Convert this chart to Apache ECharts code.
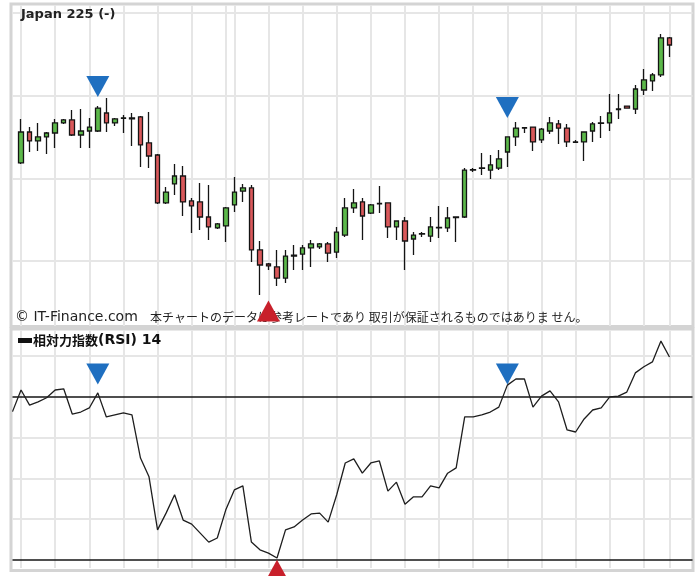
<!DOCTYPE html>
<html>
<head>
<meta charset="utf-8">
<script src="https://cdn.jsdelivr.net/npm/echarts@6/dist/echarts.min.js"></script>
<style>
  html, body { margin: 0; padding: 0; background: #ffffff; }
  #chart { width: 700px; height: 576px; }
</style>
</head>
<body>
<div id="chart"></div>
<script>
// Daily sessions, oldest first: [open, close, low, high]
const candles = [
  [15593, 15780, 15587, 15859], [15780, 15726, 15659, 15810], [15726, 15750, 15665, 15835],
  [15750, 15774, 15647, 15780], [15774, 15835, 15683, 15859], [15835, 15853, 15829, 15859],
  [15853, 15762, 15756, 15913], [15762, 15786, 15683, 15919], [15786, 15810, 15683, 15865],
  [15786, 15925, 15780, 15937], [15895, 15835, 15780, 15986], [15835, 15859, 15816, 15865],
  [15862, 15866, 15774, 15883], [15865, 15859, 15696, 15895], [15871, 15702, 15569, 15877],
  [15714, 15635, 15562, 15901], [15641, 15351, 15345, 15647], [15351, 15417, 15345, 15448],
  [15466, 15514, 15399, 15587], [15514, 15357, 15272, 15575], [15363, 15333, 15169, 15381],
  [15357, 15266, 15187, 15472], [15266, 15206, 15127, 15460], [15200, 15224, 15194, 15230],
  [15212, 15321, 15115, 15327], [15339, 15417, 15296, 15508], [15423, 15442, 15357, 15466],
  [15442, 15067, 14994, 15460], [15067, 14976, 14794, 15121], [14982, 14970, 14946, 14988],
  [14964, 14897, 14849, 15067], [14897, 15030, 14867, 15067], [15030, 15036, 14946, 15097],
  [15042, 15079, 14946, 15097], [15079, 15103, 14964, 15127], [15085, 15103, 15073, 15109],
  [15103, 15048, 14994, 15115], [15054, 15175, 15018, 15206], [15157, 15321, 15145, 15381],
  [15321, 15351, 15290, 15435], [15357, 15272, 15127, 15381], [15290, 15339, 15284, 15345],
  [15345, 15348, 15290, 15454], [15351, 15206, 15139, 15354], [15206, 15242, 15127, 15245],
  [15242, 15121, 14946, 15266], [15133, 15157, 15036, 15175], [15163, 15166, 15145, 15175],
  [15151, 15206, 15115, 15266], [15200, 15203, 15139, 15333], [15200, 15260, 15175, 15327],
  [15266, 15263, 15115, 15270], [15266, 15550, 15260, 15562], [15550, 15553, 15538, 15562],
  [15560, 15563, 15520, 15653], [15550, 15581, 15496, 15641], [15562, 15617, 15550, 15671],
  [15659, 15750, 15569, 15753], [15750, 15804, 15696, 15841], [15804, 15806, 15774, 15810],
  [15810, 15720, 15665, 15813], [15732, 15798, 15714, 15804], [15786, 15835, 15768, 15871],
  [15829, 15804, 15708, 15853], [15804, 15720, 15689, 15829], [15720, 15718, 15714, 15732],
  [15720, 15780, 15605, 15783], [15786, 15829, 15720, 15841], [15832, 15835, 15744, 15877],
  [15835, 15895, 15786, 16010], [15916, 15919, 15859, 16010], [15937, 15925, 15922, 15940],
  [15919, 16040, 15889, 16064], [16034, 16095, 16004, 16161], [16089, 16125, 16028, 16137],
  [16125, 16349, 16113, 16373], [16349, 16306, 16234, 16355]
];

// RSI(14); the first value belongs to the session before the first candle
const rsiFirstDay = -1;
const rsi14 = [
  66.4, 71.7, 68.0, 68.8, 69.8, 71.7, 72.0, 65.8, 66.3, 67.3,
  71.0, 65.1, 65.6, 66.1, 65.6, 55.0, 50.4, 37.4, 41.5, 46.0,
  39.8, 38.8, 36.6, 34.4, 35.4, 42.3, 47.2, 48.2, 34.4, 32.5,
  31.7, 30.5, 37.4, 38.1, 39.8, 41.3, 41.5, 39.3, 46.0, 53.8,
  54.8, 51.3, 53.8, 54.3, 46.9, 49.1, 43.7, 45.5, 45.5, 48.2,
  47.7, 51.3, 52.6, 65.1, 65.1, 65.6, 66.3, 67.5, 72.9, 74.4,
  74.4, 67.5, 70.2, 71.5, 68.8, 61.9, 61.4, 64.6, 66.8, 67.3,
  70.0, 70.2, 71.2, 75.9, 77.4, 78.6, 83.7, 79.8
];

// Sessions that carry a vertical grid line
const gridDays = [0, 4, 8, 12, 16, 20, 24, 25, 29, 33, 37, 41, 45, 49, 53, 57, 61, 65, 69, 73, 76];
const priceLevels = [15000, 15500, 16000, 16500];
const rsiLevels = [40, 50, 60, 80];
const rsiBands = [30, 70];

// Signal markers: [session, level]
const sellOnPrice = [[9, 16055], [57, 15928]];
const buyOnPrice = [[29, 14698]];
const sellOnRsi = [[9, 75.6], [57, 75.6]];
const buyOnRsi = [[30, 27.5]];

const chart = echarts.init(document.getElementById('chart'), null, { renderer: 'canvas' });

const gridStroke = { color: '#e6e6e6', width: 2, type: 'solid' };
const bandStroke = { color: '#141414', width: 1.5, type: 'solid' };
const frameStroke = '#d4d4d4';
const sellColor = '#1f6fc0';
const buyColor = '#c8202b';

const dayAxis = (gridIndex) => ({
  type: 'value', gridIndex, min: -1, max: 78.7,
  axisLine: { show: false }, axisTick: { show: false }, axisLabel: { show: false }, splitLine: { show: false }
});

const triangle = (data, gridIndex, down, color) => ({
  type: 'scatter', xAxisIndex: gridIndex, yAxisIndex: gridIndex, data,
  symbol: 'triangle', symbolRotate: down ? 180 : 0, symbolSize: [23, 21],
  itemStyle: { color, opacity: 1 }, clip: false, silent: true, z: 6
});

chart.setOption({
  animation: false,
  backgroundColor: '#ffffff',
  grid: [
    { left: 12.5, top: 5, width: 680, height: 321 },
    { left: 12.5, top: 330.5, width: 680, height: 237.5 }
  ],
  xAxis: [dayAxis(0), dayAxis(1)],
  yAxis: [
    { type: 'value', gridIndex: 0, min: 14607, max: 16548, show: false, splitLine: { show: false } },
    { type: 'value', gridIndex: 1, min: 28.04, max: 86.3, show: false, splitLine: { show: false } }
  ],
  series: [
    {
      type: 'candlestick', name: 'Japan 225', xAxisIndex: 0, yAxisIndex: 0,
      data: candles.map((c, i) => [i, c[0], c[1], c[2], c[3]]),
      barWidth: 5,
      itemStyle: {
        color: '#5cb84a', color0: '#d9585a',
        borderColor: '#141414', borderColor0: '#141414', borderColorDoji: '#141414', borderWidth: 1.3
      },
      z: 3,
      markLine: {
        silent: true, symbol: 'none', z: 1, animation: false,
        label: { show: false }, lineStyle: gridStroke,
        emphasis: { disabled: true },
        data: [
          ...gridDays.map(d => ({ xAxis: d })),
          ...priceLevels.map(p => ({ yAxis: p }))
        ]
      }
    },
    {
      type: 'line', name: '相対力指数(RSI) 14', xAxisIndex: 1, yAxisIndex: 1,
      data: rsi14.map((v, k) => [k + rsiFirstDay, v]),
      symbol: 'none', smooth: false,
      lineStyle: { color: '#1e1e1e', width: 1.3 },
      z: 4,
      markLine: {
        silent: true, symbol: 'none', z: 1, animation: false,
        label: { show: false }, lineStyle: gridStroke,
        emphasis: { disabled: true },
        data: [
          ...gridDays.map(d => ({ xAxis: d })),
          ...rsiLevels.map(v => ({ yAxis: v })),
          ...rsiBands.map(v => ({ yAxis: v, lineStyle: bandStroke }))
        ]
      }
    },
    triangle(sellOnPrice, 0, true, sellColor),
    triangle(buyOnPrice, 0, false, buyColor),
    triangle(sellOnRsi, 1, true, sellColor),
    triangle(buyOnRsi, 1, false, buyColor)
  ],
  graphic: [
    { type: 'rect', silent: true, z: 0, shape: { x: 11, y: 4, width: 682, height: 322.5 },
      style: { fill: 'none', stroke: frameStroke, lineWidth: 3 } },
    { type: 'rect', silent: true, z: 0, shape: { x: 11, y: 329, width: 682, height: 241.5 },
      style: { fill: 'none', stroke: frameStroke, lineWidth: 3 } },
    { type: 'text', silent: true, z: 2, x: 21, y: 14.5,
      style: { text: 'Japan 225 (-)', fontFamily: 'DejaVu Sans', fontWeight: 'bold', fontSize: 13,
        fill: '#222222', textVerticalAlign: 'middle', verticalAlign: 'middle' } },
    { type: 'text', silent: true, z: 2, x: 15, y: 317.5,
      style: {
        text: '{a|© IT-Finance.com}{b|本チャートのデータは参考レートであり 取引が保証されるものではありま せん。}',
        textVerticalAlign: 'middle', verticalAlign: 'middle',
        rich: {
          a: { fontFamily: 'DejaVu Sans', fontSize: 14, width: 135, fill: '#222222', color: '#222222' },
          b: { fontFamily: 'Noto Sans CJK JP', fontSize: 12, fill: '#222222', color: '#222222' }
        }
      } },
    { type: 'rect', silent: true, z: 2, shape: { x: 18, y: 338, width: 14, height: 5 },
      style: { fill: '#111111' } },
    { type: 'text', silent: true, z: 2, x: 33, y: 340.5,
      style: {
        text: '{c|相対力指数}{d|(RSI) 14}',
        textVerticalAlign: 'middle', verticalAlign: 'middle',
        rich: {
          c: { fontFamily: 'Noto Sans CJK JP', fontWeight: 'bold', fontSize: 13, fill: '#111111', color: '#111111' },
          d: { fontFamily: 'DejaVu Sans', fontWeight: 'bold', fontSize: 14, fill: '#111111', color: '#111111' }
        }
      } }
  ]
});
</script>
</body>
</html>
